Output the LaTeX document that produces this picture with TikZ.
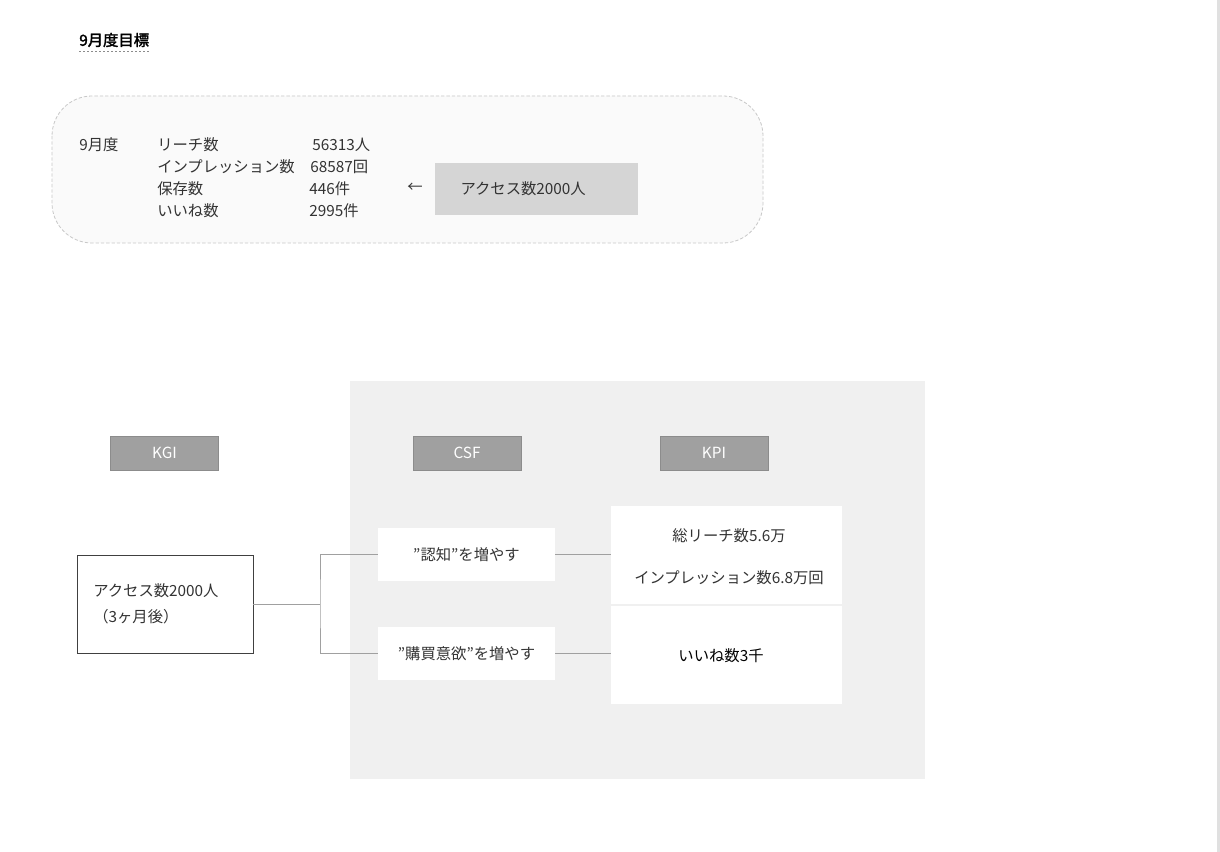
\documentclass[tikz,border=0pt]{standalone}
\usepackage{fontspec}
\setmainfont{Noto Sans CJK JP}
\newfontfamily\jpbold{Noto Sans CJK JP}[FakeBold=2]
\definecolor{txt}{HTML}{333333}
\definecolor{hdr}{HTML}{A0A0A0}
\definecolor{hdrline}{HTML}{8C8C8C}
\definecolor{panel}{HTML}{F0F0F0}
\definecolor{wire}{HTML}{A0A0A0}
\definecolor{topbg}{HTML}{FAFAFA}
\definecolor{dashc}{HTML}{C8C8C8}
\definecolor{accbox}{HTML}{D5D5D5}
\begin{document}
\begin{tikzpicture}[x=0.75pt,y=-0.75pt,
  every node/.style={font=\fontsize{11.5}{13}\selectfont, text=txt, inner sep=0pt},
  lbl/.style={anchor=west},
  hdrbox/.style={draw=hdrline, fill=hdr, line width=0.6pt, text=white, minimum width=81pt, minimum height=25.5pt},
  whitebox/.style={fill=white, draw=none},
  wireline/.style={draw=wire, line width=0.6pt}]
\useasboundingbox (0,0) rectangle (1220,852);
\fill[white] (0,0) rectangle (1220,852);
\fill[black!12] (1217,0) rectangle (1220,852);
% title
\node[lbl, font=\jpbold\fontsize{11.5}{13}\selectfont, text=black] (title) at (79,40) {9月度目標};
\draw[dashed, draw=black!45, line width=0.5pt, dash pattern=on 1.5pt off 1.5pt] (79,51) -- (150,51);
% top rounded box
\draw[fill=topbg, draw=dashc, dashed, line width=0.6pt, rounded corners=30pt, dash pattern=on 2.5pt off 1.5pt] (52,96) rectangle (763,243);
\node[lbl] (month) at (79,145) {9月度};
\node[lbl] (r1a) at (157,145) {リーチ数};
\node[lbl] (r2a) at (157,167) {インプレッション数};
\node[lbl] (r3a) at (157,189) {保存数};
\node[lbl] (r4a) at (157,211) {いいね数};
\node[lbl] (r1b) at (312,145) {56313人};
\node[lbl] (r2b) at (310,167) {68587回};
\node[lbl] (r3b) at (309,189) {446件};
\node[lbl] (r4b) at (309,211) {2995件};
\node (arr) at (415,188) {←};
\node[fill=accbox, minimum width=152.25pt, minimum height=39pt] (acc) at (536.5,189) {\hspace*{-20pt}アクセス数2000人};
% panel
\fill[panel] (350,381) rectangle (925,779);
\node[hdrbox] (kgi) at (164.5,453) {KGI};
\node[hdrbox] (csf) at (467,453) {CSF};
\node[hdrbox] (kpi) at (714,453) {KPI};
% KGI content
\node[draw=black!75, fill=white, line width=0.6pt, minimum width=132pt, minimum height=73.5pt] (goal) at (165,604) {};
\node[lbl] (g1) at (93,591) {アクセス数2000人};
\node[lbl] (g2) at (93,617) {（3ヶ月後）};
% CSF boxes
\node[whitebox, minimum width=133pt, minimum height=40pt] (c1) at (466.5,554.5) {”認知”を増やす};
\node[whitebox, minimum width=133pt, minimum height=40pt] (c2) at (466.5,653.5) {”購買意欲”を増やす};
% KPI boxes
\node[whitebox, minimum width=173pt, minimum height=73.5pt] (k1) at (726.5,555) {};
\node (k1a) at (729,536) {総リーチ数5.6万};
\node (k1b) at (729,578) {インプレッション数6.8万回};
\node[whitebox, minimum width=173pt, minimum height=73.5pt] (k2) at (726.5,655) {};
\node[text=black] (k2a) at (721,656) {いいね数3千};
% connectors
\coordinate (j) at (320,604);
\draw[wireline] (goal.east) -- (j);
\draw[wireline] (c1.west) -| (j) |- (c2.west);
\draw[wireline] (c1.east) -- (k1.west |- c1.east);
\draw[wireline] (c2.east) -- (k2.west |- c2.east);
\end{tikzpicture}
\end{document}
